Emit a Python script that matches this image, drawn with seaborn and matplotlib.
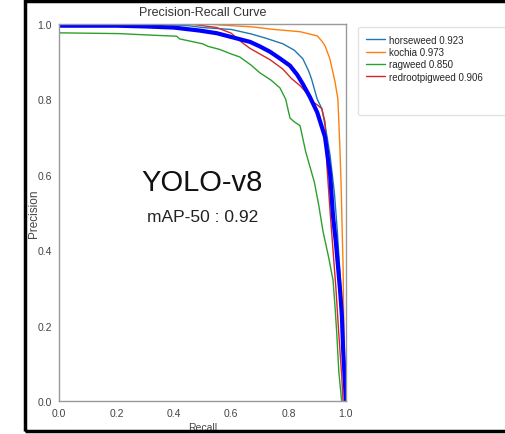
import numpy as np
import pandas as pd
import seaborn as sns
import matplotlib.pyplot as plt
from matplotlib.lines import Line2D
from matplotlib.patches import Rectangle

# PR curves (recall, precision)
horseweed_r = [0.0, 0.3, 0.45, 0.5, 0.6, 0.67, 0.72, 0.78, 0.82, 0.85, 0.87, 0.88, 0.9, 0.916, 0.93, 0.945, 0.96, 0.97, 0.98, 0.99, 1.0]
horseweed_p = [1.0, 1.0, 0.995, 0.99, 0.985, 0.973, 0.962, 0.947, 0.93, 0.907, 0.875, 0.854, 0.80, 0.775, 0.72, 0.65, 0.55, 0.45, 0.33, 0.2, 0.0]

kochia_r = [0.0, 0.5, 0.6, 0.67, 0.75, 0.84, 0.9, 0.915, 0.927, 0.944, 0.955, 0.962, 0.972, 0.979, 0.983, 0.987, 0.99, 0.993, 0.997, 1.0]
kochia_p = [1.0, 1.0, 0.995, 0.992, 0.985, 0.979, 0.968, 0.955, 0.942, 0.907, 0.87, 0.846, 0.80, 0.67, 0.58, 0.45, 0.36, 0.18, 0.05, 0.0]

ragweed_r = [0.0, 0.21, 0.29, 0.41, 0.42, 0.5, 0.52, 0.56, 0.6, 0.63, 0.67, 0.7, 0.74, 0.77, 0.79, 0.805, 0.82, 0.84, 0.86, 0.89, 0.905, 0.92, 0.94, 0.955, 0.962, 0.968, 0.975, 0.985]
ragweed_p = [0.976, 0.974, 0.971, 0.967, 0.96, 0.947, 0.94, 0.932, 0.92, 0.912, 0.89, 0.87, 0.85, 0.83, 0.80, 0.75, 0.74, 0.73, 0.66, 0.58, 0.52, 0.45, 0.38, 0.32, 0.25, 0.18, 0.08, 0.0]

redroot_r = [0.0, 0.45, 0.55, 0.6, 0.63, 0.665, 0.7, 0.735, 0.78, 0.81, 0.84, 0.865, 0.885, 0.9, 0.916, 0.927, 0.934, 0.945, 0.955, 0.965, 0.975, 0.985, 0.99]
redroot_p = [1.0, 1.0, 0.99, 0.975, 0.955, 0.935, 0.92, 0.905, 0.88, 0.855, 0.836, 0.815, 0.793, 0.785, 0.775, 0.74, 0.62, 0.50, 0.40, 0.30, 0.18, 0.07, 0.0]

mean_r = [0.0, 0.2, 0.3, 0.4, 0.49, 0.55, 0.6, 0.666, 0.7, 0.735, 0.77, 0.805, 0.83, 0.85, 0.875, 0.9, 0.927, 0.945, 0.955, 0.965, 0.972, 0.98, 0.986, 0.99, 1.0]
mean_p = [0.995, 0.995, 0.993, 0.99, 0.982, 0.975, 0.965, 0.952, 0.94, 0.926, 0.908, 0.889, 0.865, 0.84, 0.805, 0.765, 0.70, 0.60, 0.49, 0.42, 0.36, 0.29, 0.225, 0.14, 0.0]

class_names = ["horseweed", "kochia", "ragweed", "redrootpigweed"]
class_ap = [0.923, 0.973, 0.850, 0.906]
class_colors = ["#1f77b4", "#ff7f0e", "#2ca02c", "#d62728"]

frames = []
for name, ap, r, p in zip(class_names, class_ap,
                          [horseweed_r, kochia_r, ragweed_r, redroot_r],
                          [horseweed_p, kochia_p, ragweed_p, redroot_p]):
    frames.append(pd.DataFrame({"Recall": r, "Precision": p, "cls": f"{name} {ap:.3f}"}))
df = pd.concat(frames, ignore_index=True)
mean_df = pd.DataFrame({"Recall": mean_r, "Precision": mean_p})

sns.set_style("white")
plt.rcParams['font.family'] = ['Liberation Sans', 'DejaVu Sans']

fig = plt.figure(figsize=(5.05, 4.35), dpi=100)
ax = fig.add_axes([0.117, 0.076, 0.568, 0.867])

labels = [f"{n} {a:.3f}" for n, a in zip(class_names, class_ap)]
sns.lineplot(data=df, x="Recall", y="Precision", hue="cls", hue_order=labels,
             palette=class_colors, estimator=None, sort=False, lw=1, ax=ax, legend=False)
sns.lineplot(data=mean_df, x="Recall", y="Precision", color="blue", lw=3,
             estimator=None, sort=False, ax=ax, legend=False)

ax.set_xlim(0, 1)
ax.set_ylim(0, 1)
ax.set_xticks(np.arange(0, 1.01, 0.2))
ax.set_yticks(np.arange(0, 1.01, 0.2))
ax.tick_params(axis='both', labelsize=7.5, labelcolor='#444444', length=3, color='#888888', pad=2)
for s in ax.spines.values():
    s.set_color('#999999')
    s.set_linewidth(1)
ax.set_xlabel("Recall", fontsize=7.5, color='#444444', labelpad=3)
ax.set_ylabel("Precision", fontsize=8.5, color='#444444', labelpad=-1.5)
ax.set_title("Precision-Recall Curve", fontsize=9, color='#333333', pad=6)

# the last legend row is blank in the reference (its frame runs off the right edge)
handles = [Line2D([], [], color=c, lw=1) for c in class_colors]
handles += [Line2D([], [], color='none'), Line2D([], [], color='none')]
ax.legend(handles, labels + [" ", " " * 45], loc="upper left", bbox_to_anchor=(1.042, 0.992),
          borderaxespad=0, fontsize=7, frameon=True, edgecolor='#dddddd',
          handlelength=2.0, handletextpad=0.4, labelspacing=0.25, borderpad=0.8)

ax.text(0.5, 0.58, "YOLO-v8", transform=ax.transAxes, ha='center', va='center',
        fontsize=21, color='#111111')
ax.text(0.5, 0.49, "mAP-50 : 0.92", transform=ax.transAxes, ha='center', va='center',
        fontsize=12.5, color='#222222')

fig.add_artist(Rectangle((0.05, 0.006), 1.0, 0.99, transform=fig.transFigure,
                         fill=False, lw=2.5, ec='black', clip_on=False))

plt.savefig("out.png", dpi=100)
